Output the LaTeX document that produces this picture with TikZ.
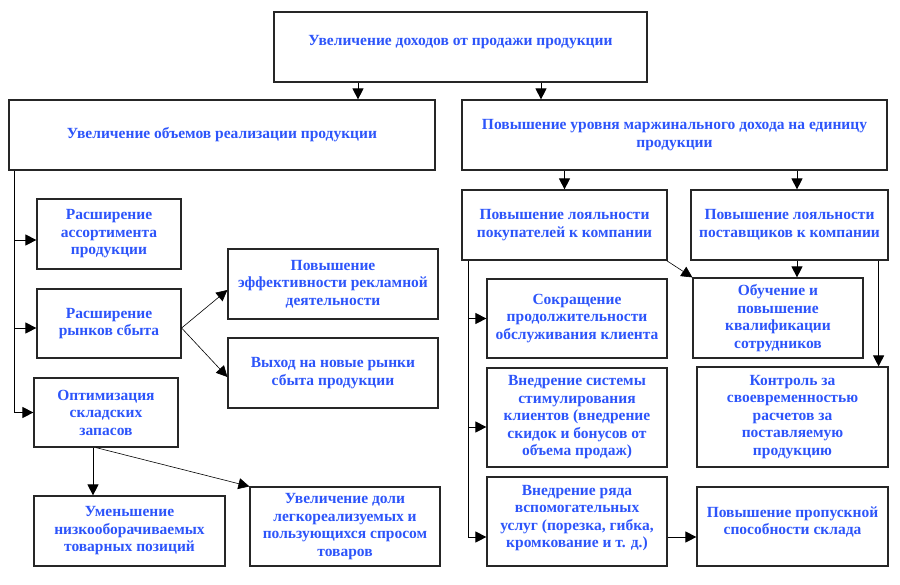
\documentclass[tikz,border=0pt]{standalone}
\usepackage{fontspec}
\setmainfont{Liberation Serif}
\usepackage{tikz}
\usetikzlibrary{arrows.meta}
\definecolor{txtblue}{RGB}{45,85,250}

\begin{document}
\begin{tikzpicture}[x=1pt,y=-1pt,
		box/.style={draw=black!85, line width=1.2pt, inner sep=0pt, align=center,
			font=\bfseries\fontsize{15.5}{17.5}\selectfont, text=txtblue},
		arr/.style={-{Triangle[length=11pt,width=11pt]}, line width=0.9pt}]
		
		\useasboundingbox (0,0) rectangle (900,584);
		
		%%% top level
		\node[box, minimum width=373pt, minimum height=70pt, text depth=14pt] (top) at (460.5,47) {Увеличение доходов от продажи продукции};
		\node[box, minimum width=426pt, minimum height=70pt] (vol) at (222,135) {Увеличение объемов реализации продукции};
		\node[box, minimum width=425pt, minimum height=70pt] (marg) at (674.5,135) {Повышение уровня маржинального дохода на единицу\\продукции};
		
		%%% left branch
		\node[box, minimum width=144pt, minimum height=70pt] (assort) at (109,234) {Расширение\\ассортимента\\продукции};
		\node[box, minimum width=144pt, minimum height=69pt] (mark) at (109,323.5) {Расширение\\рынков сбыта};
		\node[box, minimum width=144pt, minimum height=69pt] (optim) at (106,412.5) {Оптимизация\\складских\\запасов};
		\node[box, minimum width=210pt, minimum height=70pt] (advert) at (333,284) {Повышение\\эффективности рекламной\\деятельности};
		\node[box, minimum width=210pt, minimum height=70pt] (newmark) at (333,373) {Выход на новые рынки\\сбыта продукции};
		\node[box, minimum width=191pt, minimum height=70pt] (reduce) at (129.5,531) {Уменьшение\\низкооборачиваемых\\товарных позиций};
		\node[box, minimum width=190pt, minimum height=79pt] (share) at (345,526.5) {Увеличение доли\\легкореализуемых и\\пользующихся спросом\\товаров};
		
		%%% right branch
		\node[box, minimum width=205pt, minimum height=70pt] (buyers) at (564.5,225) {Повышение лояльности\\покупателей к компании};
		\node[box, minimum width=197pt, minimum height=70pt] (suppl) at (789.5,225) {Повышение лояльности\\поставщиков к компании};
		\node[box, minimum width=180pt, minimum height=79pt] (service) at (577,318.5) {Сокращение\\продолжительности\\обслуживания клиента};
		\node[box, minimum width=180pt, minimum height=99pt] (stim) at (577,417.5) {Внедрение системы\\стимулирования\\клиентов (внедрение\\скидок и бонусов от\\объема продаж)};
		\node[box, minimum width=180pt, minimum height=89pt, text depth=10pt] (extra) at (577,521.5) {Внедрение ряда\\вспомогательных\\услуг (порезка, гибка,\\кромкование и т. д.)};
		\node[box, minimum width=170pt, minimum height=80pt] (train) at (778,318) {Обучение и\\повышение\\квалификации\\сотрудников};
		\node[box, minimum width=191pt, minimum height=100pt] (control) at (792.5,417) {Контроль за\\своевременностью\\расчетов за\\поставляемую\\продукцию};
		\node[box, minimum width=191pt, minimum height=79pt, text depth=12pt] (thru) at (792.5,526.5) {Повышение пропускной\\способности склада};
		
		%%% top -> second level
		\draw[arr] ([xshift=-102.5pt]top.south) -- ([xshift=-102.5pt]top.south |- vol.north);
		\draw[arr] ([xshift=80.5pt]top.south) -- ([xshift=80.5pt]top.south |- marg.north);
		
		%%% vol
		\coordinate (vl) at ([xshift=6pt]vol.south west);
		\draw[arr] (vl) |- (optim.west);
		\draw[arr] ([yshift=-6pt]assort.west -| vl) -- ([yshift=-6pt]assort.west);
		\draw[arr] ([yshift=-4.5pt]mark.west -| vl) -- ([yshift=-4.5pt]mark.west);
		
		%%% mark
		\draw[arr, line width=0.6pt] ([yshift=-4.5pt]mark.east) -- ([yshift=-6pt]advert.west);
		\draw[arr, line width=0.6pt] ([yshift=-4.5pt]mark.east) -- ([yshift=-4pt]newmark.west);
		
		%%% optim
		\draw[arr] ([xshift=-13pt]optim.south) -- ([xshift=-13pt]optim.south |- reduce.north);
		\draw[arr, line width=0.6pt] ([xshift=-10pt]optim.south) -- (share.north west);
		
		%%% marg
		\draw[arr] (buyers.north |- marg.south) -- (buyers.north);
		\draw[arr] ([xshift=7.5pt]suppl.north |- marg.south) -- ([xshift=7.5pt]suppl.north);
		
		%%% buyers
		\coordinate (bl) at ([xshift=7pt]buyers.south west);
		\draw[arr] (bl) |- ([yshift=-15.5pt]extra.west);
		\draw[arr] (service.west -| bl) -- (service.west);
		\draw[arr] ([yshift=-9.5pt]stim.west -| bl) -- ([yshift=-9.5pt]stim.west);
		\draw[arr, line width=0.6pt] ([xshift=-1pt]buyers.south east) -- (train.north west);
		
		%%% suppl
		\draw[arr] ([xshift=7.5pt]suppl.south) -- ([xshift=7.5pt]suppl.south |- train.north);
		\draw[arr] ([xshift=-10pt]suppl.south east) -- ([xshift=-10pt]suppl.south east |- control.north);
		
		%%% extra
		\draw[arr] ([yshift=-15.5pt]extra.east) -- ([yshift=-15.5pt]extra.east -| thru.west);
		
	\end{tikzpicture}
\end{document}
